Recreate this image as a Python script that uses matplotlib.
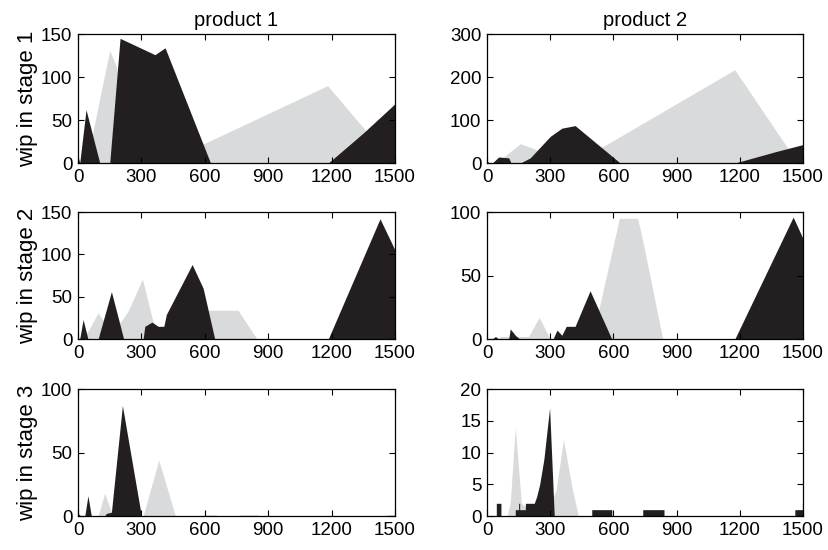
import numpy as np
import matplotlib
matplotlib.use("Agg")
import matplotlib.pyplot as plt

plt.rcParams['font.family'] = ['Liberation Sans', 'DejaVu Sans']
plt.rcParams['font.size'] = 13.5

BLACK = '#231f20'
GRAY = '#d9dadb'

# product 1, stage 1
p1s1_gray_t = [0, 40, 150, 182, 250, 400, 600, 1181, 1350, 1490, 1500]
p1s1_gray_v = [0, 0, 131, 112, 0, 0, 23, 90, 41, 0, 0]
p1s1_black_t = [0, 8, 38, 103, 150, 199, 260, 364, 412, 627, 1184, 1350, 1500]
p1s1_black_v = [8, 0, 62, 0, 0, 145, 138, 126, 134, 0, 0, 35, 69]

# product 2, stage 1
p2s1_gray_t = [0, 40, 63, 158, 213, 300, 450, 553, 1176, 1421, 1475, 1500]
p2s1_gray_v = [0, 0, 8, 45, 35, 20, 20, 39, 217, 39, 0, 0]
p2s1_black_t = [0, 10, 25, 55, 103, 114, 158, 205, 300, 355, 418, 632, 1176, 1374, 1500]
p2s1_black_v = [5, 0, 0, 14, 12, 0, 0, 12, 62, 81, 87, 0, 0, 27, 43]

# product 1, stage 2
p1s2_gray_t = [0, 47, 95, 150, 205, 237, 305, 355, 380, 560, 615, 757, 847, 1500]
p1s2_gray_v = [0, 9, 31, 10, 21, 33, 71, 20, 10, 10, 34, 34, 0, 0]
p1s2_black_t = [0, 8, 24, 47, 95, 158, 216, 308, 316, 350, 379, 406, 418, 540, 592, 647, 1184, 1429, 1500]
p1s2_black_v = [0, 0, 23, 0, 0, 56, 0, 0, 15, 20, 15, 15, 29, 88, 60, 0, 0, 142, 105]

# product 2, stage 2
p2s2_gray_t = [0, 55, 63, 197, 247, 300, 499, 537, 628, 715, 742, 834, 1500]
p2s2_gray_v = [0, 0, 2, 2, 17, 0, 0, 28, 95, 95, 75, 0, 0]
p2s2_black_t = [0, 25, 40, 55, 103, 110, 134, 155, 313, 332, 355, 376, 418, 489, 592, 1176, 1453, 1500]
p2s2_black_v = [0, 0, 2, 0, 0, 8, 3, 0, 0, 7, 3, 10, 10, 38, 0, 0, 96, 79]

# product 1, stage 3
p1s3_gray_t = [0, 95, 126, 158, 308, 382, 461, 580, 600, 650, 670, 750, 770, 850, 860, 1450, 1460, 1500]
p1s3_gray_v = [0, 0, 18, 3, 0, 44, 0, 0, 1, 1, 0, 0, 1, 1, 0, 0, 1, 1]
p1s3_black_t = [0, 13, 32, 47, 63, 125, 134, 158, 210, 300, 1500]
p1s3_black_v = [2, 0, 0, 16, 0, 0, 2, 3, 87, 0, 0]

# product 2, stage 3
p2s3_gray_t = [0, 95, 110, 134, 163, 200, 300, 327, 363, 406, 434, 1500]
p2s3_gray_v = [0, 0, 2, 14, 2, 1, 2, 4, 12, 4, 0, 0]
p2s3_black_t = [0, 44, 44, 66, 66, 134, 134, 150, 150, 155, 155, 182, 182, 224, 235, 250, 270,
                290, 297, 319, 497, 497, 592, 592, 739, 739, 840, 840, 1461, 1461, 1497, 1497, 1500]
p2s3_black_v = [0, 0, 2, 2, 0, 0, 1, 1, 2, 2, 1, 1, 2, 2, 3, 5, 9,
                15, 17, 0, 0, 1, 1, 0, 0, 1, 1, 0, 0, 1, 1, 2, 2]

panels = [
    (p1s1_gray_t, p1s1_gray_v, p1s1_black_t, p1s1_black_v, [0, 50, 100, 150]),
    (p2s1_gray_t, p2s1_gray_v, p2s1_black_t, p2s1_black_v, [0, 100, 200, 300]),
    (p1s2_gray_t, p1s2_gray_v, p1s2_black_t, p1s2_black_v, [0, 50, 100, 150]),
    (p2s2_gray_t, p2s2_gray_v, p2s2_black_t, p2s2_black_v, [0, 50, 100]),
    (p1s3_gray_t, p1s3_gray_v, p1s3_black_t, p1s3_black_v, [0, 50, 100]),
    (p2s3_gray_t, p2s3_gray_v, p2s3_black_t, p2s3_black_v, [0, 5, 10, 15, 20]),
]
x_ticks = [0, 300, 600, 900, 1200, 1500]
titles = ['product 1', 'product 2']
ylabels = ['wip in stage 1', 'wip in stage 2', 'wip in stage 3']

fig = plt.figure(figsize=(8.29, 5.5), dpi=100)
lefts = [0.0941, 0.5875]
widths = [0.3824, 0.3812]
bottoms = [0.7036, 0.3836, 0.0618]
heights = [0.2345, 0.2309, 0.2309]

for i, (gt, gv, bt, bv, yt) in enumerate(panels):
    r, c = i // 2, i % 2
    ax = fig.add_axes([lefts[c], bottoms[r], widths[c], heights[r]])
    ax.fill_between(gt, gv, 0, color=GRAY, linewidth=0)
    ax.fill_between(bt, bv, 0, color=BLACK, linewidth=0)
    ax.set_xlim(0, 1500)
    ax.set_ylim(yt[0], yt[-1])
    ax.set_xticks(x_ticks)
    ax.set_yticks(yt)
    ax.tick_params(direction='in', top=True, right=True, length=4, width=0.8,
                   labelsize=13.5)
    ax.tick_params(axis='x', pad=4)
    ax.tick_params(axis='y', pad=4)
    for s in ax.spines.values():
        s.set_linewidth(0.9)
    if r == 0:
        ax.set_title(titles[c], fontsize=14.5, pad=6)
    if c == 0:
        ax.set_ylabel(ylabels[r], fontsize=16, labelpad=2)

fig.savefig('out.png', dpi=100)
